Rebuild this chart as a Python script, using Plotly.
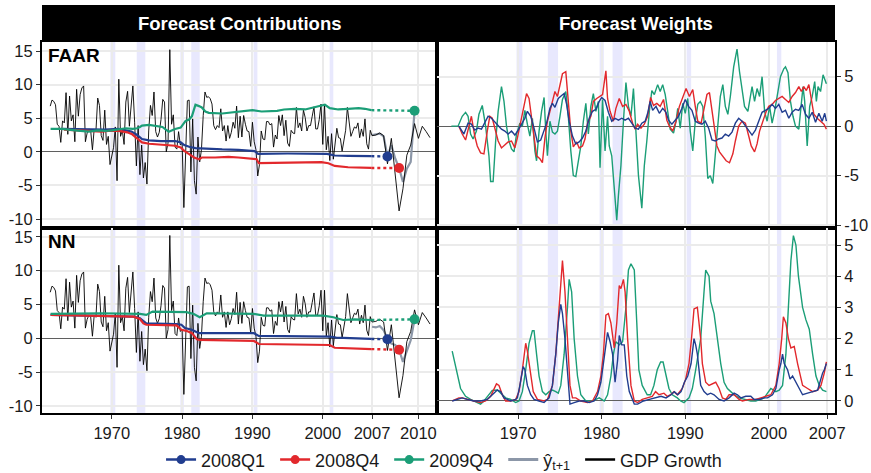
import numpy as np
import plotly.graph_objects as go

# ---------------- data ----------------
# GDP growth (quarterly, annualised %), first value 1961Q2
gdp_start = 1961.25
gdp_growth = [
    6.8, 7.7, 7.5,
    7.0, 4.1, 3.8, 1.4,
    4.6, 4.3, 8.8, 2.6,
    8.3, 4.6, 5.5, 1.5,
    9.3, 5.3, 8.5, 9.5,
    9.8, 1.5, 2.8, 3.4,
    3.2, 0.3, 3.4, 3.1,
    8.0, 6.9, 2.4, 1.7,
    6.2, 1.1, 2.3, -1.9,
    -0.7, 0.6, 3.7, -4.3,
    10.8, 2.3, 3.2, 1.1,
    7.4, 9.0, 3.8, 6.8,
    9.8, 4.4, -2.1, 3.9,
    -3.4, 1.0, -3.9, -1.6,
    -4.8, 3.1, 6.9, 5.4,
    8.9, 3.0, 2.2, 2.9,
    4.8, 7.8, 7.4, 0.0,
    1.3, 15.2, 4.1, 5.5,
    0.7, 0.4, 3.0, 1.0,
    1.3, -8.3, -0.5, 7.6,
    7.7, -3.0, 4.9, -4.3,
    -6.3, 2.2, -1.5, 0.3,
    5.4, 8.9, 8.1, 8.2,
    7.9, 7.1, 3.9, 3.3,
    3.9, 3.6, 6.4, 3.1,
    3.9, 1.6, 3.9, 2.0,
    2.9, 4.4, 3.5, 6.8,
    2.1, 5.3, 2.2, 5.4,
    4.1, 3.1, 3.0, 0.8,
    4.4, 1.5, 0.3, -3.6,
    -1.9, 3.1, 1.9, 1.8,
    4.5, 4.5, 4.0, 4.2,
    0.7, 2.5, 1.9, 5.4,
    3.9, 5.5, 2.4, 4.7,
    1.3, 0.8, 3.2, 2.8,
    2.7, 6.6, 3.6, 4.3,
    3.1, 6.2, 5.1, 3.1,
    3.9, 3.9, 5.3, 6.7,
    3.4, 3.4, 4.8, 7.1,
    1.1, 7.1, 0.3, 2.3,
    -1.3, 2.7, -1.1, 1.4,
    3.5, 2.1, 2.0, 0.1,
    1.6, 3.2, 6.6, 4.6,
    2.3, 3.0, 3.7, 3.5,
    4.3, 2.1, 3.4, 2.3,
    4.9, 1.2, 0.4, 3.2,
    2.4, 2.5, 2.8, 2.4,
    -1.8, 2.0, -3.0, -8.8,
    -5.5, -0.5, 1.0, 4.2,
    2.0, 3.8, 3.0, 2.1,
]

# one-step forecasts y-hat(t+1) in the forecast window
yhat_dates = [2007.0, 2007.25, 2007.5, 2007.75, 2008.0, 2008.25, 2008.5, 2008.75, 2009.0, 2009.25, 2009.5, 2009.75]
yhat_faar = [2.5, 2.6, 2.7, 2.3, -0.7, 1.0, -1.0, -2.4, -4.5, -2.5, -1.5, 6.1]
yhat_nn = [1.7, 1.6, 1.8, 1.2, -0.15, -0.8, -1.0, -1.7, -3.5, -2.0, -0.3, 2.8]

series_names = ["2008Q1", "2008Q4", "2009Q4"]
series_colors = ["#213D8F", "#E2282C", "#1B9E77"]
target_dates = [2008.0, 2008.75, 2009.75]

# Forecast contributions, FAAR
faar_c_q1_x = [1963.0, 1966.0, 1969.0, 1971.0, 1972.0, 1972.8, 1973.6, 1974.3, 1975.3, 1977.0, 1979.0, 1979.8, 1980.3, 1981.0, 1981.9, 1983.8, 1985.7, 1988.0, 1990.3, 1990.8, 1995.0, 2000.6, 2001.7, 2003.6, 2006.9]
faar_c_q1_y = [3.4, 3.3, 3.3, 3.4, 3.2, 3.0, 2.5, 1.9, 1.7, 1.6, 1.6, 1.4, 1.0, 0.75, 0.55, 0.4, 0.35, 0.3, 0.1, -0.3, -0.25, -0.3, -0.55, -0.6, -0.65]
faar_c_q4_x = [1963.2, 1964.8, 1966.7, 1968.6, 1969.5, 1971.0, 1972.2, 1972.9, 1973.6, 1974.3, 1975.3, 1976.2, 1977.7, 1979.0, 1979.8, 1980.3, 1981.0, 1981.7, 1982.4, 1982.8, 1984.7, 1986.6, 1988.0, 1990.6, 1990.9, 1995.1, 1999.8, 2000.8, 2001.7, 2003.6, 2006.9]
faar_c_q4_y = [3.3, 3.2, 3.1, 3.0, 3.1, 3.1, 2.9, 2.6, 2.0, 1.4, 1.2, 1.1, 1.0, 0.9, 0.65, 0.15, -0.35, -0.85, -1.1, -0.85, -0.85, -0.75, -0.85, -1.1, -1.7, -1.6, -1.55, -1.7, -2.1, -2.3, -2.4]
faar_c_q9_x = [1961.3, 1962.9, 1964.8, 1966.7, 1968.0, 1969.1, 1970.0, 1971.0, 1972.0, 1973.0, 1973.6, 1974.0, 1974.3, 1975.3, 1976.2, 1977.2, 1977.7, 1978.1, 1979.0, 1979.8, 1980.5, 1981.0, 1981.4, 1981.7, 1981.9, 1982.4, 1982.8, 1983.3, 1983.8, 1985.7, 1988.0, 1990.0, 1991.3, 1993.5, 1994.5, 1996.0, 1997.5, 1998.9, 2000.3, 2001.0, 2002.2, 2003.6, 2005.1, 2006.0, 2006.9]
faar_c_q9_y = [3.4, 3.4, 3.2, 3.0, 3.2, 3.1, 3.2, 3.4, 3.5, 3.4, 3.5, 3.7, 3.9, 4.0, 3.85, 3.7, 3.3, 3.0, 3.4, 3.6, 4.6, 4.8, 5.3, 6.3, 7.0, 6.8, 6.6, 6.0, 5.8, 5.7, 6.0, 6.2, 6.0, 6.1, 6.3, 6.4, 6.3, 6.6, 7.0, 6.5, 6.3, 6.4, 6.5, 6.4, 6.2]
faar_final = [-0.7, -2.4, 6.1]

# Forecast contributions, NN
nn_c_q1_x = [1961.3, 1973.1, 1974.0, 1974.5, 1974.9, 1979.2, 1979.9, 1980.4, 1981.4, 1982.1, 1982.5, 1990.2, 1990.9, 2001.0, 2001.9, 2006.9]
nn_c_q1_y = [3.45, 3.2, 2.95, 2.5, 2.2, 2.1, 2.0, 1.5, 1.25, 0.9, 0.75, 0.75, 0.35, 0.25, 0.1, -0.1]
nn_c_q4_x = [1961.3, 1973.1, 1974.0, 1974.5, 1974.9, 1979.2, 1979.9, 1980.6, 1981.4, 1982.1, 1982.5, 1990.2, 1990.9, 2001.0, 2001.7, 2006.9]
nn_c_q4_y = [3.45, 3.2, 2.85, 2.2, 2.0, 1.9, 1.25, 1.1, 0.75, -0.15, -0.25, -0.4, -0.85, -1.0, -1.4, -1.6]
nn_c_q9_x = [1961.3, 1968.3, 1974.0, 1974.9, 1975.8, 1980.6, 1981.6, 1982.5, 1983.5, 1987.3, 1990.2, 1991.6, 1996.8, 2000.1, 2001.5, 2002.9, 2004.5, 2006.9]
nn_c_q9_y = [3.6, 3.7, 3.6, 3.45, 3.95, 3.85, 3.6, 3.1, 3.7, 3.7, 3.6, 3.35, 3.35, 3.35, 3.1, 2.7, 2.8, 2.7]
nn_final = [-0.15, -1.7, 2.8]

# Forecast weights, FAAR
faar_w_q1_x = [1962.9, 1963.5, 1964.0, 1964.4, 1964.8, 1965.2, 1965.6, 1966.0, 1966.4, 1966.8, 1967.2, 1967.6, 1968.0, 1968.4, 1968.8, 1969.2, 1969.6, 1970.0, 1970.4, 1970.8, 1971.1, 1971.5, 1971.9, 1972.3, 1972.7, 1973.0, 1973.4, 1973.8, 1974.1, 1974.4, 1974.8, 1975.2, 1975.5, 1975.8, 1976.1, 1976.5, 1976.9, 1977.3, 1977.7, 1978.1, 1978.5, 1978.9, 1979.3, 1979.7, 1980.0, 1980.4, 1980.8, 1981.2, 1981.6, 1982.0, 1982.4, 1982.8, 1983.2, 1983.6, 1984.0, 1984.4, 1984.8, 1985.2, 1985.5, 1985.8, 1986.1, 1986.5, 1986.9, 1987.3, 1987.7, 1988.0, 1988.4, 1988.8, 1989.2, 1989.6, 1990.0, 1990.4, 1990.8, 1991.2, 1991.6, 1992.0, 1992.4, 1992.8, 1993.2, 1993.6, 1994.0, 1994.4, 1994.8, 1995.2, 1995.6, 1996.0, 1996.4, 1996.8, 1997.2, 1997.6, 1998.0, 1998.4, 1998.8, 1999.2, 1999.6, 2000.0, 2000.4, 2000.8, 2001.2, 2001.6, 2002.0, 2002.4, 2002.8, 2003.2, 2003.6, 2004.0, 2004.4, 2004.8, 2005.2, 2005.6, 2006.0, 2006.4, 2006.7, 2006.9]
faar_w_q1_y = [0.0, -0.8, 0.3, 0.2, -0.4, -0.2, -0.3, 0.3, 1.0, 0.8, 0.4, 0.0, -0.3, -0.5, -0.8, -0.5, -0.9, -0.4, 0.2, 0.8, 1.5, 1.0, -0.2, -1.6, -1.4, -0.6, 0.3, 1.8, 2.3, 1.9, 2.8, 3.1, 3.3, 2.2, 0.5, -1.0, -1.8, -1.6, -1.2, -0.5, 0.8, 1.5, 1.7, 2.5, 2.9, 2.6, 1.4, 0.5, 0.8, 0.6, 0.8, 0.6, 0.8, 0.3, -0.2, -0.3, 0.3, 0.5, 1.3, 2.5, 1.6, 2.0, 1.3, 1.8, 1.4, 0.6, 0.2, 0.6, 1.0, 1.8, 2.7, 2.0, 1.6, 0.5, 0.3, 0.2, 0.5, -0.2, -1.4, -1.5, -1.3, -1.2, -0.8, -1.0, -0.6, 0.3, 0.8, 0.5, 0.0, -0.5, -0.9, -0.4, 0.6, 1.4, 1.6, 1.8, 2.2, 1.8, 2.2, 1.4, 1.6, 0.8, 1.4, 1.7, 1.6, 2.2, 1.2, 0.8, 1.4, 0.4, 1.3, 0.5, 1.3, 0.5]
faar_w_q4_x = [1962.9, 1963.3, 1963.7, 1964.0, 1964.4, 1964.8, 1965.1, 1965.5, 1965.9, 1966.3, 1966.6, 1966.9, 1967.2, 1967.6, 1968.0, 1968.4, 1968.8, 1969.2, 1969.6, 1969.9, 1970.3, 1970.7, 1971.0, 1971.3, 1971.6, 1971.9, 1972.2, 1972.6, 1972.9, 1973.2, 1973.5, 1973.8, 1974.1, 1974.4, 1974.7, 1975.0, 1975.3, 1975.7, 1976.0, 1976.3, 1976.6, 1977.0, 1977.3, 1977.7, 1978.0, 1978.3, 1978.7, 1979.0, 1979.4, 1979.8, 1980.1, 1980.5, 1980.7, 1981.0, 1981.4, 1981.7, 1982.1, 1982.5, 1982.9, 1983.3, 1983.7, 1984.0, 1984.3, 1984.7, 1985.1, 1985.5, 1985.85, 1986.2, 1986.6, 1987.0, 1987.4, 1987.8, 1988.1, 1988.5, 1988.9, 1989.3, 1989.7, 1990.1, 1990.5, 1990.9, 1991.2, 1991.5, 1991.9, 1992.2, 1992.6, 1992.9, 1993.2, 1993.5, 1993.8, 1994.1, 1994.5, 1994.9, 1995.3, 1995.7, 1996.0, 1996.4, 1996.8, 1997.2, 1997.6, 1997.9, 1998.3, 1998.6, 1998.9, 1999.3, 1999.7, 2000.0, 2000.4, 2000.8, 2001.2, 2001.6, 2002.0, 2002.4, 2002.8, 2003.2, 2003.6, 2003.9, 2004.2, 2004.5, 2004.8, 2005.1, 2005.4, 2005.8, 2006.2, 2006.6, 2006.9]
faar_w_q4_y = [0.0, -0.8, -1.4, -0.3, 1.0, -1.0, -2.0, -2.7, -2.8, -0.5, 1.0, 0.8, -0.3, -1.5, -2.2, -1.9, -1.6, -1.5, -2.2, -1.2, 0.5, 2.0, 3.3, 2.8, 0.8, -1.5, -3.0, -3.3, -3.7, -1.2, 0.5, 1.5, 2.5, 3.5, 3.0, 4.0, 5.3, 5.5, 2.8, -0.5, -2.1, -1.6, -2.2, -2.0, -1.3, 0.3, 1.0, 2.5, 2.8, 3.0, 3.2, 5.6, 2.8, 1.5, 0.5, 1.8, 2.8, 2.0, 2.2, 1.5, 0.3, -0.3, 0.2, -0.2, 0.2, 1.0, 2.9, 2.1, 2.3, 2.0, 2.7, 0.6, 0.0, -0.5, 0.5, 2.0, 3.0, 3.8, 3.0, 3.7, 2.0, 0.5, 0.3, 1.5, 3.2, 3.4, 1.5, -0.5, -2.0, -2.6, -3.0, -3.5, -3.7, -2.8, -1.5, 0.0, 0.5, 0.3, -1.0, -2.0, -2.6, -1.8, -0.5, 0.5, 1.5, 2.0, 2.2, 2.6, 2.8, 3.0, 2.7, 2.4, 3.0, 3.4, 4.0, 3.5, 4.0, 3.6, 4.2, 2.5, 1.2, 0.8, 0.5, 0.2, -0.3]
faar_w_q9_x = [1962.0, 1962.8, 1963.3, 1963.7, 1964.0, 1964.3, 1964.6, 1965.0, 1965.3, 1965.7, 1966.1, 1966.5, 1966.7, 1967.0, 1967.3, 1967.6, 1968.0, 1968.3, 1968.6, 1968.9, 1969.2, 1969.5, 1969.8, 1970.2, 1970.5, 1970.8, 1971.1, 1971.4, 1971.7, 1972.0, 1972.2, 1972.5, 1972.8, 1973.1, 1973.3, 1973.5, 1973.8, 1974.1, 1974.4, 1974.7, 1975.0, 1975.3, 1975.7, 1976.0, 1976.3, 1976.6, 1976.9, 1977.2, 1977.5, 1977.8, 1978.1, 1978.4, 1978.7, 1979.0, 1979.3, 1979.6, 1979.8, 1980.1, 1980.4, 1980.7, 1980.9, 1981.2, 1981.5, 1981.8, 1982.0, 1982.3, 1982.6, 1982.9, 1983.2, 1983.5, 1983.8, 1984.1, 1984.4, 1984.8, 1985.1, 1985.4, 1985.7, 1986.0, 1986.3, 1986.7, 1987.0, 1987.3, 1987.6, 1987.9, 1988.2, 1988.6, 1988.9, 1989.1, 1989.4, 1989.7, 1990.0, 1990.3, 1990.6, 1990.9, 1991.2, 1991.5, 1991.8, 1992.1, 1992.4, 1992.7, 1993.0, 1993.3, 1993.6, 1993.9, 1994.2, 1994.5, 1994.8, 1995.1, 1995.4, 1995.8, 1996.2, 1996.5, 1996.8, 1997.1, 1997.5, 1997.8, 1998.0, 1998.3, 1998.6, 1998.9, 1999.2, 1999.5, 1999.8, 2000.1, 2000.4, 2000.7, 2001.0, 2001.4, 2001.8, 2002.0, 2002.3, 2002.6, 2002.9, 2003.2, 2003.6, 2003.9, 2004.1, 2004.3, 2004.6, 2004.9, 2005.2, 2005.5, 2005.7, 2005.9, 2006.2, 2006.5, 2006.9]
faar_w_q9_y = [0.0, 0.0, 1.0, 1.4, 1.0, -0.8, -1.3, -0.5, 1.2, 2.1, 0.0, -3.0, -5.6, -5.6, -1.5, 1.5, 4.0, 2.5, 0.0, -1.5, -2.3, -2.6, -0.8, 0.3, 0.0, 1.6, 0.2, -1.0, 0.8, -2.5, -3.5, -0.5, 1.5, 2.9, -0.5, -3.0, 0.5, -0.6, -0.8, -0.5, 1.0, 2.7, 3.5, 1.0, -2.5, -5.0, -5.1, -3.5, -2.0, 0.5, 2.3, -0.8, 2.0, 3.3, 1.5, 2.5, -4.2, 2.7, -2.5, 1.0, -2.0, -3.0, -6.0, -9.5, -7.0, -4.0, 0.5, 4.4, 2.0, 1.0, 3.8, -1.0, -5.0, -8.3, -4.0, -1.5, 1.5, 3.6, 3.2, 4.2, 3.5, 4.2, 3.2, 1.5, -0.3, -0.7, 0.5, 1.8, -0.2, 2.3, 1.3, 2.8, -0.5, -2.5, 0.5, 2.2, 2.5, 2.0, -1.0, -5.3, -5.0, -5.8, -3.0, 0.5, 3.0, 4.2, 2.0, 1.2, 3.0, 6.0, 7.8, 5.5, 3.5, 2.0, 1.5, 3.0, 4.0, 2.5, 3.8, 3.0, 5.0, 1.5, 0.5, 2.0, 0.3, 1.5, 3.0, 5.0, 5.8, 6.0, 5.4, 2.5, 1.0, 0.0, -0.3, 2.5, 4.0, 2.5, -2.0, 2.0, 3.0, 4.5, 2.5, 4.0, 3.5, 5.2, 4.3]

# Forecast weights, NN
nn_w_q1_x = [1962.1, 1962.7, 1963.3, 1963.9, 1964.7, 1965.5, 1966.3, 1966.9, 1967.5, 1967.9, 1968.3, 1968.7, 1969.1, 1969.7, 1969.9, 1970.2, 1970.6, 1970.8, 1971.1, 1971.5, 1971.9, 1972.5, 1973.1, 1973.7, 1974.1, 1974.5, 1974.8, 1975.1, 1975.3, 1975.6, 1975.9, 1976.2, 1976.7, 1977.3, 1977.9, 1978.5, 1979.1, 1979.5, 1979.9, 1980.3, 1980.7, 1981.0, 1981.3, 1981.6, 1981.9, 1982.1, 1982.4, 1982.7, 1983.0, 1983.3, 1983.9, 1984.3, 1985.0, 1985.7, 1986.4, 1987.1, 1987.7, 1988.3, 1988.7, 1989.1, 1989.5, 1989.9, 1990.3, 1990.7, 1991.05, 1991.25, 1991.45, 1991.85, 1992.25, 1992.65, 1993.05, 1993.45, 1994.05, 1994.65, 1995.25, 1995.85, 1996.25, 1996.65, 1997.25, 1997.85, 1998.25, 1998.85, 1999.45, 1999.85, 2000.45, 2000.85, 2001.25, 2001.45, 2001.65, 2001.85, 2002.25, 2002.55, 2002.85, 2003.25, 2003.55, 2004.05, 2004.65, 2005.25, 2005.85, 2006.45, 2006.65, 2006.9]
nn_w_q1_y = [0.0, 0.05, 0.1, 0.05, 0.0, 0.0, 0.05, 0.2, 0.35, 0.3, 0.1, 0.05, 0.0, 0.05, 0.1, 0.5, 1.1, 1.0, 0.5, 0.2, 0.05, 0.0, -0.05, 0.1, 0.5, 1.5, 2.5, 3.1, 2.8, 2.0, 0.8, -0.1, -0.05, 0.0, 0.0, -0.05, 0.0, 0.2, 0.6, 1.5, 2.2, 1.9, 1.5, 0.6, 1.3, 2.1, 1.8, 1.8, 0.8, 0.3, -0.1, -0.1, 0.0, 0.05, 0.1, 0.15, 0.1, 0.2, 0.3, 0.2, 0.3, 0.6, 0.8, 1.2, 2.0, 1.8, 1.5, 0.5, 0.3, 0.2, 0.25, 0.2, 0.05, 0.0, 0.1, 0.25, 0.2, 0.1, 0.15, 0.15, 0.05, 0.05, 0.1, 0.1, 0.2, 0.4, 1.0, 1.2, 1.5, 1.2, 1.0, 0.7, 0.8, 0.6, 0.4, 0.2, 0.25, 0.3, 0.35, 0.9, 1.0, 1.2]
nn_w_q4_x = [1962.1, 1962.9, 1963.3, 1963.9, 1964.7, 1965.5, 1966.1, 1966.7, 1967.1, 1967.4, 1967.7, 1968.1, 1968.5, 1969.1, 1969.7, 1970.1, 1970.5, 1970.9, 1971.1, 1971.4, 1971.8, 1972.3, 1973.1, 1973.5, 1974.1, 1974.5, 1974.9, 1975.2, 1975.3, 1975.6, 1975.9, 1976.2, 1976.5, 1976.9, 1977.5, 1978.3, 1978.9, 1979.5, 1979.9, 1980.2, 1980.5, 1980.8, 1981.1, 1981.5, 1981.8, 1982.1, 1982.3, 1982.6, 1982.8, 1983.1, 1983.5, 1983.9, 1984.3, 1984.85, 1985.45, 1986.05, 1986.45, 1986.85, 1987.45, 1987.85, 1988.25, 1988.65, 1989.05, 1989.65, 1990.05, 1990.45, 1990.75, 1991.05, 1991.45, 1991.85, 1992.05, 1992.45, 1992.85, 1993.25, 1993.65, 1994.05, 1994.45, 1994.85, 1995.25, 1995.85, 1996.45, 1996.85, 1997.65, 1998.45, 1999.05, 1999.65, 2000.25, 2000.85, 2001.25, 2001.55, 2001.75, 2002.05, 2002.35, 2002.65, 2003.05, 2003.45, 2003.75, 2004.05, 2004.65, 2005.25, 2005.85, 2006.25, 2006.65, 2006.9]
nn_w_q4_y = [0.0, 0.1, 0.1, 0.05, 0.0, -0.05, 0.0, 0.15, 0.4, 0.55, 0.5, 0.2, 0.0, 0.0, 0.05, 0.3, 1.0, 1.85, 1.6, 1.0, 0.3, 0.05, 0.0, 0.05, 0.5, 1.5, 3.0, 4.2, 4.5, 3.5, 2.0, 0.5, 0.1, 0.1, 0.0, -0.05, 0.0, 0.3, 0.8, 1.5, 2.75, 2.8, 2.5, 1.7, 2.5, 3.7, 3.6, 3.9, 3.5, 2.0, 0.5, 0.0, -0.05, 0.05, 0.1, 0.15, 0.3, 0.2, 0.25, 0.15, 0.2, 0.3, 0.2, 0.4, 0.7, 1.2, 2.0, 2.95, 3.0, 2.0, 1.2, 0.6, 0.5, 0.55, 0.6, 0.4, 0.1, 0.05, 0.2, 0.2, 0.05, 0.0, 0.05, 0.05, 0.1, 0.15, 0.2, 0.5, 1.2, 2.0, 2.7, 2.5, 2.0, 1.7, 1.75, 1.2, 0.8, 0.5, 0.4, 0.3, 0.35, 0.5, 0.9, 1.25]
nn_w_q9_x = [1962.1, 1962.7, 1963.1, 1963.7, 1964.3, 1965.1, 1965.5, 1965.9, 1966.5, 1966.9, 1967.5, 1967.9, 1968.5, 1969.1, 1969.7, 1970.1, 1970.5, 1970.9, 1971.3, 1971.7, 1971.9, 1972.2, 1972.5, 1972.9, 1973.3, 1973.7, 1974.1, 1974.5, 1974.8, 1975.1, 1975.5, 1975.9, 1976.1, 1976.4, 1976.7, 1977.1, 1977.5, 1978.1, 1978.9, 1979.3, 1979.7, 1980.0, 1980.3, 1980.7, 1981.1, 1981.4, 1981.7, 1982.1, 1982.5, 1982.9, 1983.2, 1983.5, 1983.9, 1984.2, 1984.45, 1984.85, 1985.45, 1985.85, 1986.25, 1986.65, 1987.05, 1987.35, 1987.65, 1988.05, 1988.45, 1989.05, 1989.45, 1989.85, 1990.45, 1990.85, 1991.25, 1991.85, 1992.25, 1992.45, 1992.85, 1993.05, 1993.45, 1993.85, 1994.25, 1994.65, 1995.05, 1995.45, 1995.85, 1996.45, 1997.25, 1997.85, 1998.45, 1998.85, 1999.45, 1999.85, 2000.25, 2000.85, 2001.25, 2001.65, 2002.05, 2002.35, 2002.65, 2002.95, 2003.25, 2003.55, 2004.05, 2004.45, 2004.85, 2005.25, 2005.65, 2006.05, 2006.45, 2006.9]
nn_w_q9_y = [1.6, 0.85, 0.4, 0.15, 0.05, -0.05, -0.1, 0.0, 0.2, 0.34, 0.35, 0.25, 0.1, 0.05, -0.05, 0.0, 0.3, 1.0, 1.85, 2.25, 2.25, 1.5, 0.8, 0.3, 0.2, 0.3, 0.35, 0.3, 0.25, 0.5, 1.5, 3.0, 3.9, 3.5, 2.0, 0.8, 0.2, 0.0, 0.0, 0.05, 0.1, 0.05, 0.0, 0.2, 0.8, 1.5, 1.9, 1.8, 1.9, 3.0, 4.2, 4.4, 4.2, 2.5, 1.0, 0.5, 0.2, 0.2, 0.5, 1.0, 1.25, 1.25, 0.9, 0.4, 0.2, 0.1, 0.0, -0.05, 0.1, 0.4, 1.0, 2.0, 3.5, 4.2, 4.0, 3.2, 2.8, 2.0, 1.2, 0.6, 0.4, 0.3, 0.2, 0.1, 0.05, 0.0, 0.0, 0.05, 0.1, 0.25, 0.4, 0.3, 0.35, 0.5, 1.5, 3.0, 4.5, 5.3, 5.0, 4.0, 3.0, 2.6, 2.3, 1.5, 0.8, 0.5, 0.35, 0.3]

# recession periods (shaded)
rec_start = [1969.8, 1973.55, 1979.75, 1981.3, 1990.17, 2000.98]
rec_end = [1970.5, 1974.77, 1980.25, 1982.5, 1990.7, 2001.5]

left_ticks = [1970, 1980, 1990, 2000, 2007, 2010]
right_ticks = [1970, 1980, 1990, 2000, 2007]
contrib_yticks = [-10, -5, 0, 5, 10, 15]
faar_w_yticks = [-10, -5, 0, 5]
nn_w_yticks = [0, 1, 2, 3, 4, 5]

# ---------------- helpers ----------------
BREAK = 2007.0
STRETCH = 2.2   # the forecast window after 2007 is drawn wider


def xt(v):
    v = np.asarray(v, dtype=float)
    return np.where(v <= BREAK, v, BREAK + (v - BREAK) * STRETCH)


FONT = "Liberation Sans, Arial, Helvetica, sans-serif"
NB = "\u00a0"
fig = go.Figure()

gdp_dates = gdp_start + 0.25 * np.arange(len(gdp_growth))

panels = {
    "faar": dict(xa="x", ya="y", yhat=yhat_faar, final=faar_final,
                 contrib=[(faar_c_q1_x, faar_c_q1_y), (faar_c_q4_x, faar_c_q4_y), (faar_c_q9_x, faar_c_q9_y)]),
    "nn": dict(xa="x3", ya="y3", yhat=yhat_nn, final=nn_final,
               contrib=[(nn_c_q1_x, nn_c_q1_y), (nn_c_q4_x, nn_c_q4_y), (nn_c_q9_x, nn_c_q9_y)]),
}

for key, p in panels.items():
    fig.add_trace(go.Scatter(x=xt(yhat_dates), y=p["yhat"], mode="lines", xaxis=p["xa"], yaxis=p["ya"],
                             line=dict(color="#8C97A8", width=2.2), showlegend=False, hoverinfo="skip"))
    fig.add_trace(go.Scatter(x=xt(gdp_dates), y=gdp_growth, mode="lines", xaxis=p["xa"], yaxis=p["ya"],
                             line=dict(color="black", width=0.9), showlegend=False, hoverinfo="skip"))
    for i, (cx, cy) in enumerate(p["contrib"]):
        fig.add_trace(go.Scatter(x=xt(cx), y=cy, mode="lines", xaxis=p["xa"], yaxis=p["ya"],
                                 line=dict(color=series_colors[i], width=2.2), showlegend=False, hoverinfo="skip"))
        fig.add_trace(go.Scatter(x=xt([cx[-1], target_dates[i]]), y=[cy[-1], p["final"][i]], mode="lines",
                                 xaxis=p["xa"], yaxis=p["ya"],
                                 line=dict(color=series_colors[i], width=2.4, dash="dot"),
                                 showlegend=False, hoverinfo="skip"))
    for i in range(3):
        fig.add_trace(go.Scatter(x=xt([target_dates[i]]), y=[p["final"][i]], mode="markers",
                                 xaxis=p["xa"], yaxis=p["ya"],
                                 marker=dict(color=series_colors[i], size=10), showlegend=False, hoverinfo="skip"))

weights = [
    ("x2", "y2", [(faar_w_q1_x, faar_w_q1_y), (faar_w_q4_x, faar_w_q4_y), (faar_w_q9_x, faar_w_q9_y)]),
    ("x4", "y4", [(nn_w_q1_x, nn_w_q1_y), (nn_w_q4_x, nn_w_q4_y), (nn_w_q9_x, nn_w_q9_y)]),
]
for xa, ya, ser in weights:
    for i in [2, 1, 0]:
        wx, wy = ser[i]
        fig.add_trace(go.Scatter(x=wx, y=wy, mode="lines", xaxis=xa, yaxis=ya,
                                 line=dict(color=series_colors[i], width=1.4), showlegend=False, hoverinfo="skip"))

# legend entries
for i in range(3):
    fig.add_trace(go.Scatter(x=[None], y=[None], mode="lines+markers", name=series_names[i] + NB,
                             line=dict(color=series_colors[i], width=2.5), marker=dict(size=9)))
fig.add_trace(go.Scatter(x=[None], y=[None], mode="lines", name="ŷ<sub>t+1</sub>" + NB,
                         line=dict(color="#8C97A8", width=3)))
fig.add_trace(go.Scatter(x=[None], y=[None], mode="lines", name="GDP Growth",
                         line=dict(color="black", width=2.5)))

# ---------------- layout ----------------
W, H = 871, 473
ml, mr, mt, mb = 42, 36, 5, 60
pw, ph = W - ml - mr, H - mt - mb
XL = [0, (437 - ml) / pw]
XR = [(437 - ml) / pw, 1]
y_split = (413 - 228) / ph
y_top = (413 - 42) / ph
YT = [y_split, y_top]
YB = [0, y_split]

axis_common = dict(showline=True, linecolor="black", linewidth=2, mirror=True, automargin=False,
                   showgrid=True, gridcolor="#EBEBEB", gridwidth=1.5,
                   tickfont=dict(family=FONT, size=16.5, color="#1a1a1a"),
                   ticklen=4, tickwidth=1.3, tickcolor="#333")
xcommon = dict(zeroline=False, **axis_common)
ycommon = dict(zeroline=True, zerolinecolor="#5f5f5f", zerolinewidth=1, **axis_common)

left_range = [1960.08, float(xt(2011.2))]
right_range = [1960.28, 2007.93]

fig.update_layout(
    width=W, height=H, margin=dict(l=ml, r=mr, t=mt, b=mb, autoexpand=False),
    paper_bgcolor="white", plot_bgcolor="white",
    font=dict(family=FONT, color="#1a1a1a"),
    xaxis=dict(domain=XL, anchor="y", range=left_range, tickvals=xt(left_ticks).tolist(),
               showticklabels=False, ticks="", **xcommon),
    xaxis3=dict(domain=XL, anchor="y3", range=left_range, tickvals=xt(left_ticks).tolist(),
                ticktext=[str(t) for t in left_ticks], ticks="outside", **xcommon),
    xaxis2=dict(domain=XR, anchor="y2", range=right_range, tickvals=right_ticks,
                showticklabels=False, ticks="", **xcommon),
    xaxis4=dict(domain=XR, anchor="y4", range=right_range, tickvals=right_ticks,
                ticktext=[str(t) for t in right_ticks], ticks="outside", **xcommon),
    yaxis=dict(domain=YT, anchor="x", range=[-11.34, 16.34], tickvals=contrib_yticks,
               ticktext=[str(t) for t in contrib_yticks], ticks="outside", **ycommon),
    yaxis3=dict(domain=YB, anchor="x3", range=[-11.05, 16.3], tickvals=contrib_yticks,
                ticktext=[str(t) for t in contrib_yticks], ticks="outside", **ycommon),
    yaxis2=dict(domain=YT, anchor="x2", side="right", range=[-10.3, 8.51], tickvals=faar_w_yticks,
                ticktext=[str(t) for t in faar_w_yticks], ticks="outside", **ycommon),
    yaxis4=dict(domain=YB, anchor="x4", side="right", range=[-0.385, 5.545], tickvals=nn_w_yticks,
                ticktext=[str(t) for t in nn_w_yticks], ticks="outside", **ycommon),
    legend=dict(orientation="h", x=0.507, xanchor="center", y=-0.115, yanchor="middle",
                font=dict(family=FONT, size=18, color="#1a1a1a"), bgcolor="rgba(0,0,0,0)",
                itemwidth=30),
    showlegend=True,
)

shapes = []
for xa, ya, f in [("x", "y", xt), ("x3", "y3", xt), ("x2", "y2", np.asarray), ("x4", "y4", np.asarray)]:
    for s, e in zip(rec_start, rec_end):
        shapes.append(dict(type="rect", xref=xa, yref=ya + " domain", x0=float(f(s)), x1=float(f(e)),
                           y0=0, y1=1, fillcolor="rgba(80,80,240,0.13)", line=dict(width=0), layer="below"))
for xa, ya in [("x", "y"), ("x3", "y3")]:
    shapes.append(dict(type="line", xref=xa, yref=ya + " domain", x0=float(xt(BREAK)), x1=float(xt(BREAK)),
                       y0=0, y1=1, line=dict(color="#BDBDBD", width=1.6, dash="dash"), layer="below"))
# facet strips
shapes.append(dict(type="rect", xref="paper", yref="paper", x0=XL[0], x1=XL[1], y0=y_top, y1=1,
                   fillcolor="black", line=dict(width=0), layer="above"))
shapes.append(dict(type="rect", xref="paper", yref="paper", x0=XR[0], x1=XR[1], y0=y_top, y1=1,
                   fillcolor="black", line=dict(width=0), layer="above"))
fig.update_layout(shapes=shapes)

annotations = [
    dict(text="<b>Forecast Contributions</b>", xref="paper", yref="paper", x=(XL[0] + XL[1]) / 2,
         y=(y_top + 1) / 2, xanchor="center", yanchor="middle", showarrow=False,
         font=dict(family=FONT, size=18.5, color="white")),
    dict(text="<b>Forecast Weights</b>", xref="paper", yref="paper", x=(XR[0] + XR[1]) / 2,
         y=(y_top + 1) / 2, xanchor="center", yanchor="middle", showarrow=False,
         font=dict(family=FONT, size=18.5, color="white")),
    dict(text="<b>FAAR</b>", xref="x domain", yref="y domain", x=0.01, y=0.995, xanchor="left",
         yanchor="top", showarrow=False, font=dict(family=FONT, size=19, color="black")),
    dict(text="<b>NN</b>", xref="x3 domain", yref="y3 domain", x=0.01, y=0.995, xanchor="left",
         yanchor="top", showarrow=False, font=dict(family=FONT, size=19, color="black")),
]
fig.update_layout(annotations=annotations)

# the page's default body margin would shift the figure by 8px; remove it
fig.write_html("out.html", config={"displayModeBar": False},
               post_script="document.body.style.margin='0';")
